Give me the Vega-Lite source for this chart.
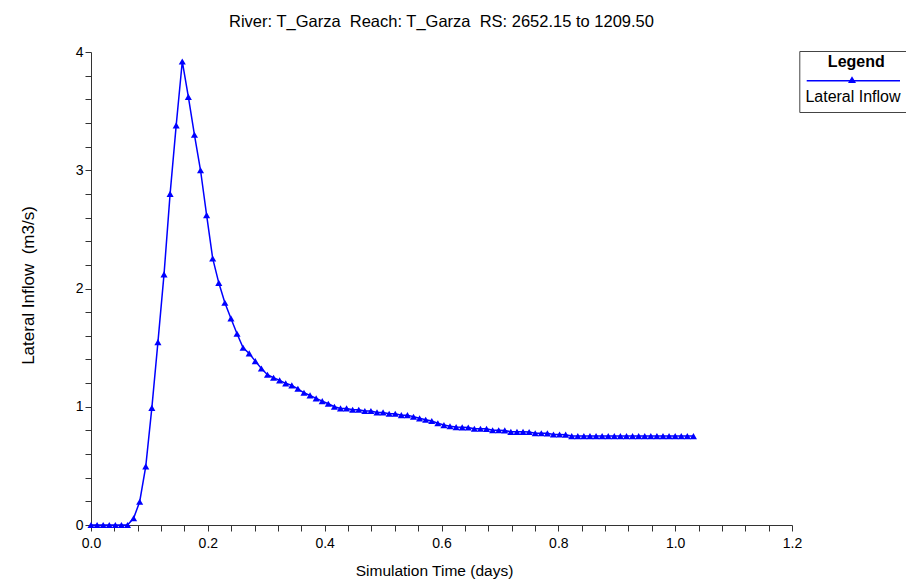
{
  "$schema": "https://vega.github.io/schema/vega-lite/v6.json",
  "width": 701,
  "height": 473,
  "autosize": {"type": "none"},
  "padding": {"left": 91, "top": 52, "right": 114, "bottom": 54},
  "background": "white",
  "config": {
    "font": "Liberation Sans",
    "view": {"stroke": null},
    "axis": {"labelFont": "Liberation Sans", "titleFont": "Liberation Sans", "labelColor": "black", "titleColor": "black", "domainColor": "#333333", "tickColor": "#333333", "grid": false, "labelFontSize": 14, "titleFontSize": 14, "titleFontWeight": "normal", "tickSize": 6, "labelOverlap": false, "labelFlush": false, "labelBound": false}
  },
  "title": {"text": "River: T_Garza\u00a0 Reach: T_Garza\u00a0 RS: 2652.15 to 1209.50", "fontSize": 16.5, "fontWeight": "normal", "font": "Liberation Sans", "color": "black", "offset": 15, "anchor": "middle"},
  "data": {"values": [
    {"t": 0, "v": 0}, {"t": 0.010417, "v": 0}, {"t": 0.020833, "v": 0}, {"t": 0.03125, "v": 0},
    {"t": 0.041667, "v": 0}, {"t": 0.052083, "v": 0}, {"t": 0.0625, "v": 0}, {"t": 0.072917, "v": 0.057},
    {"t": 0.083333, "v": 0.197}, {"t": 0.09375, "v": 0.496}, {"t": 0.104167, "v": 0.99}, {"t": 0.114583, "v": 1.547},
    {"t": 0.125, "v": 2.119}, {"t": 0.135417, "v": 2.8}, {"t": 0.145833, "v": 3.38}, {"t": 0.15625, "v": 3.92},
    {"t": 0.166667, "v": 3.62}, {"t": 0.177083, "v": 3.3}, {"t": 0.1875, "v": 3.0}, {"t": 0.197917, "v": 2.62},
    {"t": 0.208333, "v": 2.254}, {"t": 0.21875, "v": 2.048}, {"t": 0.229167, "v": 1.879}, {"t": 0.239583, "v": 1.747},
    {"t": 0.25, "v": 1.617}, {"t": 0.260417, "v": 1.499}, {"t": 0.270833, "v": 1.451}, {"t": 0.28125, "v": 1.386},
    {"t": 0.291667, "v": 1.323}, {"t": 0.302083, "v": 1.271}, {"t": 0.3125, "v": 1.245}, {"t": 0.322917, "v": 1.223},
    {"t": 0.333333, "v": 1.198}, {"t": 0.34375, "v": 1.181}, {"t": 0.354167, "v": 1.152}, {"t": 0.364583, "v": 1.118},
    {"t": 0.375, "v": 1.096}, {"t": 0.385417, "v": 1.071}, {"t": 0.395833, "v": 1.048}, {"t": 0.40625, "v": 1.025},
    {"t": 0.416667, "v": 1.0}, {"t": 0.427083, "v": 0.986}, {"t": 0.4375, "v": 0.986}, {"t": 0.447917, "v": 0.975},
    {"t": 0.458333, "v": 0.975}, {"t": 0.46875, "v": 0.964}, {"t": 0.479167, "v": 0.964}, {"t": 0.489583, "v": 0.952},
    {"t": 0.5, "v": 0.952}, {"t": 0.510417, "v": 0.941}, {"t": 0.520833, "v": 0.941}, {"t": 0.53125, "v": 0.929},
    {"t": 0.541667, "v": 0.929}, {"t": 0.552083, "v": 0.915}, {"t": 0.5625, "v": 0.902}, {"t": 0.572917, "v": 0.89},
    {"t": 0.583333, "v": 0.879}, {"t": 0.59375, "v": 0.86}, {"t": 0.604167, "v": 0.845}, {"t": 0.614583, "v": 0.835},
    {"t": 0.625, "v": 0.828}, {"t": 0.635417, "v": 0.826}, {"t": 0.645833, "v": 0.824}, {"t": 0.65625, "v": 0.814},
    {"t": 0.666667, "v": 0.814}, {"t": 0.677083, "v": 0.813}, {"t": 0.6875, "v": 0.801}, {"t": 0.697917, "v": 0.801},
    {"t": 0.708333, "v": 0.8}, {"t": 0.71875, "v": 0.788}, {"t": 0.729167, "v": 0.788}, {"t": 0.739583, "v": 0.788},
    {"t": 0.75, "v": 0.787}, {"t": 0.760417, "v": 0.776}, {"t": 0.770833, "v": 0.776}, {"t": 0.78125, "v": 0.775},
    {"t": 0.791667, "v": 0.765}, {"t": 0.802083, "v": 0.765}, {"t": 0.8125, "v": 0.764}, {"t": 0.822917, "v": 0.752},
    {"t": 0.833333, "v": 0.752}, {"t": 0.84375, "v": 0.752}, {"t": 0.854167, "v": 0.752}, {"t": 0.864583, "v": 0.752},
    {"t": 0.875, "v": 0.752}, {"t": 0.885417, "v": 0.752}, {"t": 0.895833, "v": 0.752}, {"t": 0.90625, "v": 0.752},
    {"t": 0.916667, "v": 0.752}, {"t": 0.927083, "v": 0.752}, {"t": 0.9375, "v": 0.752}, {"t": 0.947917, "v": 0.752},
    {"t": 0.958333, "v": 0.752}, {"t": 0.96875, "v": 0.752}, {"t": 0.979167, "v": 0.752}, {"t": 0.989583, "v": 0.752},
    {"t": 1.0, "v": 0.752}, {"t": 1.010417, "v": 0.752}, {"t": 1.020833, "v": 0.752}, {"t": 1.03125, "v": 0.752}
  ]},
  "encoding": {
    "x": {
      "field": "t", "type": "quantitative",
      "scale": {"domain": [0, 1.2], "nice": false, "zero": false},
      "axis": {
        "title": "Simulation Time (days)",
        "titleFontSize": 15.5,
        "titleX": 343,
        "values": [0, 0.04, 0.08, 0.12, 0.16, 0.2, 0.24, 0.28, 0.32, 0.36, 0.4, 0.44, 0.48, 0.52, 0.56, 0.6, 0.64, 0.68, 0.72, 0.76, 0.8, 0.84, 0.88, 0.92, 0.96, 1, 1.04, 1.08, 1.12, 1.16, 1.2],
        "labelExpr": "indexof([0, 0.2, 0.4, 0.6, 0.8, 1, 1.2], datum.value) >= 0 ? format(datum.value, '.1f') : ''",
        "labelPadding": 5,
        "titlePadding": 13
      }
    },
    "y": {
      "field": "v", "type": "quantitative",
      "scale": {"domain": [0, 4], "nice": false},
      "axis": {
        "title": "Lateral Inflow\u00a0 (m3/s)",
        "titleFontSize": 17,
        "titleY": 233,
        "values": [0, 0.2, 0.4, 0.6, 0.8, 1, 1.2, 1.4, 1.6, 1.8, 2, 2.2, 2.4, 2.6, 2.8, 3, 3.2, 3.4, 3.6, 3.8, 4],
        "labelExpr": "datum.value % 1 === 0 ? format(datum.value, 'd') : ''",
        "labelPadding": 2,
        "titlePadding": 37.5
      }
    },
    "color": {
      "datum": "Lateral Inflow",
      "type": "nominal",
      "scale": {"domain": ["Lateral Inflow"], "range": ["#0000ff"]},
      "legend": {
        "orient": "none", "legendX": 708.3, "legendY": -1,
        "title": "Legend", "titleFontWeight": "bold", "titleFontSize": 16, "titleFont": "Liberation Sans", "titleColor": "black", "titleAnchor": "middle", "titlePadding": 8,
        "padding": 3, "strokeColor": "#444444", "fillColor": "white",
        "symbolType": "M-4.53,-0.83H4.8M-0.27,-0.67L0,-1.13L0.27,-0.67ZM5.45,-0.83M0,1.7",
        "symbolSize": 400, "symbolStrokeWidth": 1.5, "symbolFillColor": "#0000ff", "symbolStrokeColor": "#0000ff", "symbolOpacity": 1,
        "symbolOffset": 38.7, "labelOffset": -57.6, "labelBaseline": "top", "labelFontSize": 16, "labelFont": "Liberation Sans", "labelColor": "black"
      }
    }
  },
  "layer": [
    {"mark": {"type": "line", "strokeWidth": 1.5}},
    {"mark": {"type": "point", "shape": "triangle-up", "filled": true, "size": 50, "opacity": 1}}
  ]
}
